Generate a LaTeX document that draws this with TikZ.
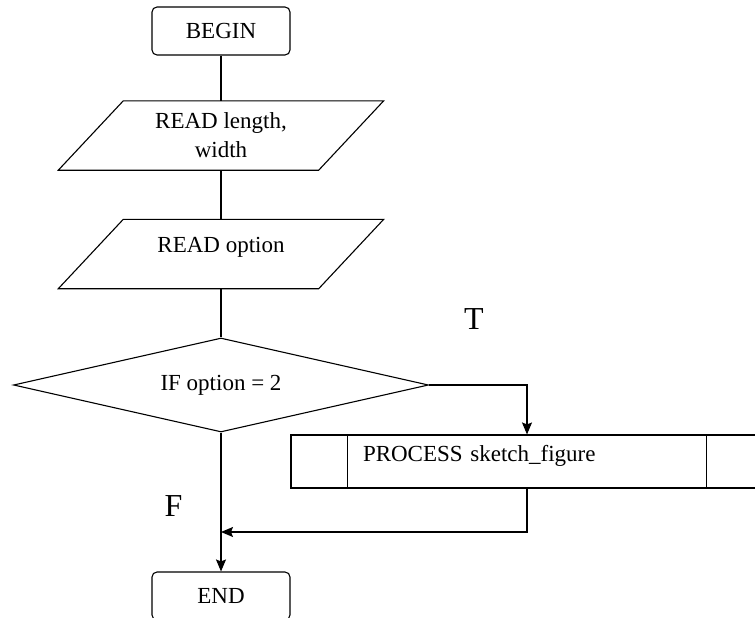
\documentclass[tikz,border=0pt]{standalone}
\usepackage{fontspec}
\setmainfont{Liberation Serif}
\usetikzlibrary{shapes.geometric,arrows.meta}
\begin{document}
\begin{tikzpicture}[x=1pt,y=-1pt,
  every node/.style={font=\fontsize{23}{29}\selectfont},
  ln/.style={line width=1.1pt,black},
  arr/.style={ln,-{Stealth[length=12pt,width=10pt,inset=2pt]}},
  term/.style={draw,ln,rounded corners=5pt,minimum width=138pt,minimum height=48pt,inner sep=0pt},
  iobody/.style={minimum width=260pt,minimum height=69pt,inner sep=0pt,align=center},
  decision/.style={draw,ln,diamond,aspect=4.4,minimum width=415pt,minimum height=94pt,inner sep=0pt},
  procbox/.style={draw,ln,minimum width=472pt,minimum height=53pt,inner ysep=0pt,inner xsep=72pt,text width=328pt,align=left},
  branchlabel/.style={font=\fontsize{32}{32}\selectfont,inner sep=0pt}
]
\useasboundingbox (0,0) rectangle (755,618);

\node[term] (begin) at (221,31) {BEGIN};
\node[iobody] (r1) at (221,135.5) {READ length,\\width};
\node[iobody,text height=15.2pt,text depth=18.5pt] (r2) at (221,254) {READ option};
\node[decision] (d) at (221,385) {IF option = 2};
\node[procbox,text height=15.6pt,text depth=14.8pt] (p) at (527,461.5) {PROCESS sketch\_figure};
\node[term] (endn) at (221,596) {END};
\node[branchlabel] (t) at (474,319) {T};
\node[branchlabel] (f) at (173.5,506) {F};
\coordinate (merge) at (221,532);

% parallelogram outlines
\foreach \n in {r1,r2}{
  \draw[ln] ([xshift=32.5pt]\n.north west) -- ([xshift=32.5pt]\n.north east)
    -- ([xshift=-32.5pt]\n.south east) -- ([xshift=-32.5pt]\n.south west) -- cycle;
}
% process side bars
\draw[ln] ([xshift=57pt]p.north west) -- ([xshift=57pt]p.south west);
\draw[ln] ([xshift=-57pt]p.north east) -- ([xshift=-57pt]p.south east);

% connectors
\draw[ln] (begin.south) -- (r1.north);
\draw[ln] (r1.south) -- (r2.north);
\draw[ln] (r2.south) -- (d.north);
\draw[arr] (d.east) -| (p.north);
\draw[arr] (d.south) -- (endn.north);
\draw[arr] (p.south) |- (merge);
\end{tikzpicture}
\end{document}
